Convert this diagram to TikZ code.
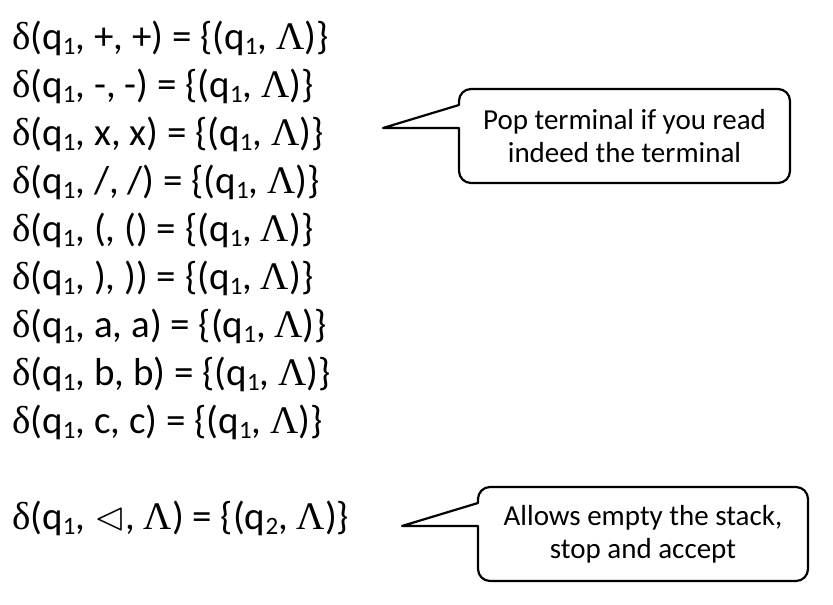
\documentclass[tikz,border=0pt]{standalone}
\usepackage{amssymb}
\usepackage{fontspec}
\setmainfont{Carlito}
\newfontfamily\grk{Liberation Serif}
\newcommand\Dlt{{\grk δ}}
\newcommand\Lmb{{\grk Λ}}
\newcommand\lo[1]{\raisebox{-5pt}{\fontsize{25}{25}\selectfont #1}}
\newcommand\eosym{{\fontsize{40}{40}\selectfont$\vartriangleleft$}}
\begin{document}
\begin{tikzpicture}
    [
    x=1pt,y=1pt,
    rule/.style={anchor=base west,inner sep=0pt,font=\fontsize{39}{47}\selectfont},
    note/.style={align=center,inner sep=0pt,font=\fontsize{29}{33}\selectfont},
    bubble/.style={line width=2.2pt,line join=round}
    ]
    \useasboundingbox (0,0) rectangle (833,605);
    \node (dplus) at (12,555) [rule] {\Dlt(q\lo{1}, +, +) = \{(q\lo{1}, \Lmb)\}};
    \node (dminus) at (12,507.1) [rule] {\Dlt(q\lo{1}, -, -) = \{(q\lo{1}, \Lmb)\}};
    \node (dx) at (12,459.2) [rule] {\Dlt(q\lo{1}, x, x) = \{(q\lo{1}, \Lmb)\}};
    \node (dslash) at (12,411.3) [rule] {\Dlt(q\lo{1}, /, /) = \{(q\lo{1}, \Lmb)\}};
    \node (dlpar) at (12,363.4) [rule] {\Dlt(q\lo{1}, (, () = \{(q\lo{1}, \Lmb)\}};
    \node (drpar) at (12,315.5) [rule] {\Dlt(q\lo{1}, ), )) = \{(q\lo{1}, \Lmb)\}};
    \node (da) at (12,267.6) [rule] {\Dlt(q\lo{1}, a, a) = \{(q\lo{1}, \Lmb)\}};
    \node (db) at (12,219.7) [rule] {\Dlt(q\lo{1}, b, b) = \{(q\lo{1}, \Lmb)\}};
    \node (dc) at (12,171.8) [rule] {\Dlt(q\lo{1}, c, c) = \{(q\lo{1}, \Lmb)\}};
    \node (dend) at (12,75) [rule] {\Dlt(q\lo{1}, \eosym, \Lmb) = \{(q\lo{2}, \Lmb)\}};
    % callout for the terminals
    \draw [bubble] (459,500) -- (383,477) -- (459,477) -- (459,434)
      arc [start angle=180,end angle=270,radius=12] -- (778,422)
      arc [start angle=270,end angle=360,radius=12] -- (790,504)
      arc [start angle=0,end angle=90,radius=12] -- (471,516)
      arc [start angle=90,end angle=180,radius=12] -- cycle;
    \node (pop) at (624.5,469) [note] {Pop terminal if you read\\indeed the terminal};
    % callout for the end marker
    \draw [bubble] (478,102) -- (402,79) -- (478,79) -- (478,36)
      arc [start angle=180,end angle=270,radius=12] -- (796,24)
      arc [start angle=270,end angle=360,radius=12] -- (808,106)
      arc [start angle=0,end angle=90,radius=12] -- (490,118)
      arc [start angle=90,end angle=180,radius=12] -- cycle;
    \node (accept) at (643,71) [note] {Allows empty the stack,\\stop and accept};
  \end{tikzpicture}
\end{document}
